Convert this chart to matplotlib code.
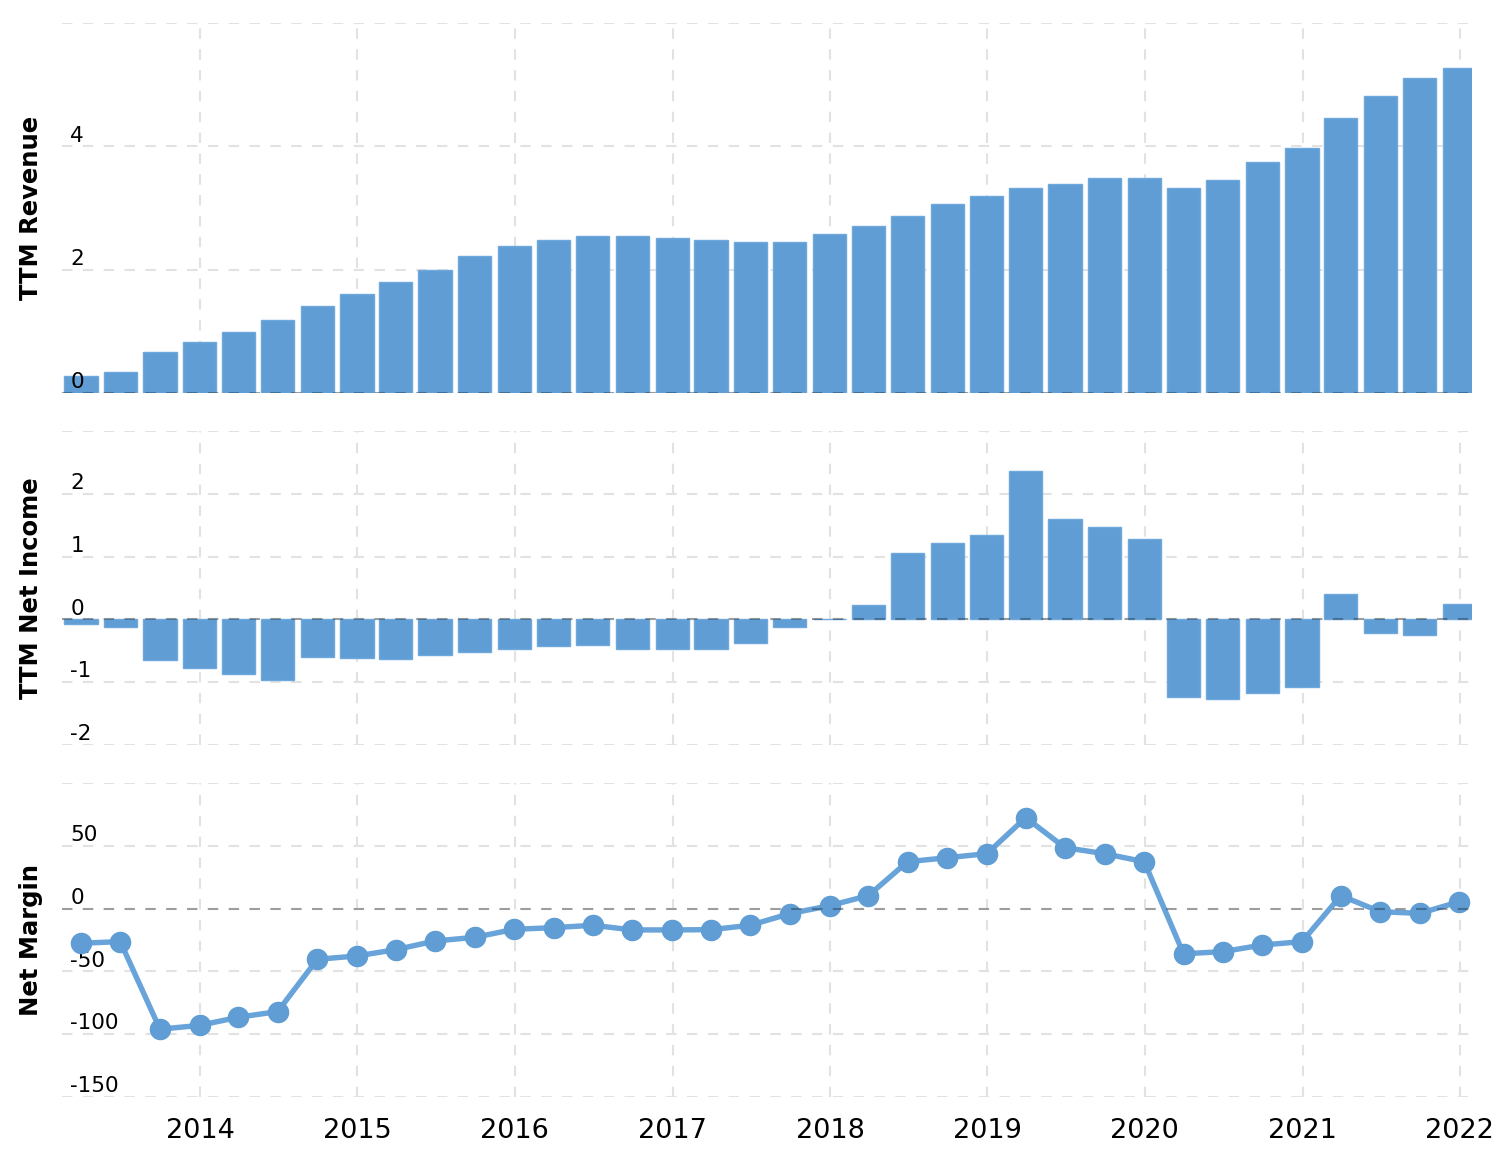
import matplotlib
matplotlib.use("Agg")
import matplotlib.pyplot as plt
import matplotlib.dates as mdates
import numpy as np
import pandas as pd

# quarterly data, 2013 Q1 .. 2021 Q4
quarters = pd.period_range("2013Q1", periods=36, freq="Q").to_timestamp(how="end").normalize()

revenue = [0.28, 0.34, 0.66, 0.83, 0.99, 1.18, 1.41, 1.60, 1.80, 1.99,
           2.22, 2.38, 2.48, 2.54, 2.54, 2.51, 2.48, 2.45, 2.45, 2.58,
           2.71, 2.87, 3.06, 3.19, 3.32, 3.39, 3.48, 3.48, 3.32, 3.45,
           3.74, 3.97, 4.46, 4.81, 5.11, 5.27]

net_income = [-0.08, -0.12, -0.65, -0.78, -0.87, -0.97, -0.59, -0.62, -0.63, -0.56,
              -0.52, -0.47, -0.43, -0.40, -0.47, -0.47, -0.47, -0.37, -0.12, 0.01,
              0.23, 1.06, 1.22, 1.34, 2.36, 1.60, 1.47, 1.28, -1.24, -1.26,
              -1.17, -1.07, 0.40, -0.21, -0.24, 0.24]

net_margin = [-27.6, -26.3, -96.0, -93.0, -86.5, -82.0, -40.4, -37.7, -32.7, -25.8,
              -22.9, -16.5, -15.2, -13.3, -17.0, -17.0, -16.8, -13.3, -4.0, 2.3,
              10.3, 37.3, 40.5, 43.7, 72.4, 48.5, 43.7, 37.3, -36.0, -34.3,
              -29.0, -26.3, 10.3, -2.5, -3.8, 5.5]

years = [str(y) for y in range(2014, 2023)]

rev_ticks = [0, 2, 4]
ni_ticks = [-2, -1, 0, 1, 2]
nm_ticks = [-150, -100, -50, 0, 50]

blue = "#5f9dd4"
edge = "#6ea8dc"
gridc = "#e2e2e2"

fig = plt.figure(figsize=(15.1, 11.7), dpi=100)
L, W = 0.0411, 0.9337
ax1 = fig.add_axes([L, 0.6641, W, 0.3162])
ax2 = fig.add_axes([L, 0.3632, W, 0.2684])
ax3 = fig.add_axes([L, 0.0624, W, 0.2684])

x = mdates.date2num(quarters)
year_pos = mdates.date2num(pd.to_datetime([y + "-01-01" for y in years]))
xmin = mdates.date2num(pd.Timestamp("2013-02-15"))
xmax = mdates.date2num(pd.Timestamp("2022-01-29"))

ax1.bar(x, revenue, width=77, color=blue, edgecolor=edge, linewidth=1, zorder=2)
ax2.bar(x, net_income, width=77, color=blue, edgecolor=edge, linewidth=1, zorder=2)
ax3.plot(x, net_margin, color="#68a3d9", lw=3.9, zorder=3)
ax3.plot(x, net_margin, "o", color=blue, ms=14.5, zorder=4)

panels = [
    (ax1, "TTM Revenue", rev_ticks, 0, 6),
    (ax2, "TTM Net Income", ni_ticks, -2, 3),
    (ax3, "Net Margin", nm_ticks, -150, 100),
]
for ax, label, ticks, lo, hi in panels:
    ax.set_xlim(xmin, xmax)
    ax.set_ylim(lo, hi)
    ax.set_yticks(ticks + [hi])
    ax.set_xticks(year_pos)
    ax.grid(True, color=gridc, ls=(0, (5, 5)), lw=1.5, zorder=0)
    ax.set_axisbelow(True)
    for s in ax.spines.values():
        s.set_visible(False)
    ax.tick_params(length=0, labelleft=False, labelbottom=False)
    ax.axhline(0, color="black", alpha=0.3, ls=(0, (5, 5)), lw=1.5, zorder=5)
    for t in ticks:
        ax.annotate(str(t), xy=(0, t), xycoords=("axes fraction", "data"),
                    xytext=(6, 3.5), textcoords="offset points",
                    ha="left", va="baseline", fontsize=15.5, color="#000000")
    ax.set_ylabel(label, fontsize=17.5, fontweight="bold")
    ax.yaxis.set_label_coords(-0.0138, 0.5)

ax3.tick_params(labelbottom=True, pad=15, labelsize=19.5)
ax3.set_xticklabels(years)

plt.savefig("out.png", dpi=100)
